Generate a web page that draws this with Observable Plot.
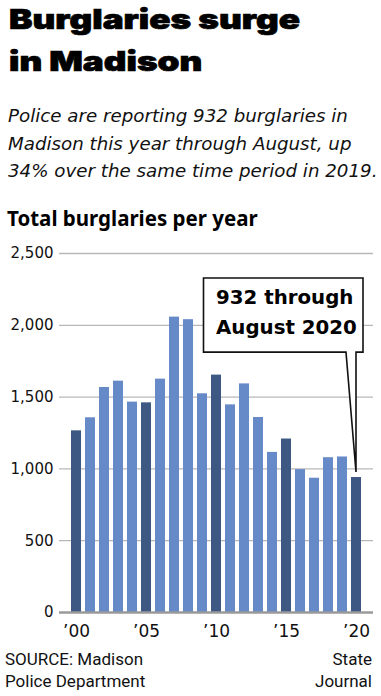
<!DOCTYPE html>
<html>
<head>
<meta charset="utf-8">
<script src="https://cdn.jsdelivr.net/npm/d3@7"></script>
<script src="https://cdn.jsdelivr.net/npm/@observablehq/plot@0.6"></script>
<style>
  html, body { margin: 0; padding: 0; background: #fff; }
  body { width: 381px; height: 696px; position: relative; overflow: hidden; font-family: "Noto Sans", sans-serif; color: #111; }
  .abs { position: absolute; white-space: nowrap; }
  .line { display: block; width: max-content; transform-origin: 0 0; }
  #title { left: 9px; top: -2px; font-family: Inter, "Liberation Sans", sans-serif; font-weight: 900; font-size: 27.5px; line-height: 42.4px; color: #000; -webkit-text-stroke: 0.7px #000; }
  #subtitle { left: 8px; top: 102px; font-family: "DejaVu Sans", sans-serif; font-style: italic; font-size: 16px; line-height: 27.5px; color: #111; }
  #label { left: 7px; top: 206px; font-weight: 700; font-size: 20.5px; line-height: 24px; color: #000; }
  #chart { left: 0; top: 240px; }
  #source { left: 5px; top: 649px; font-family: Roboto, sans-serif; font-size: 17px; line-height: 21.7px; }
  #credit { right: 9px; top: 649px; font-family: Roboto, sans-serif; font-size: 17px; line-height: 21.7px; text-align: right; }
</style>
</head>
<body>
<div id="title" class="abs"><span class="line">Burglaries surge</span><span class="line">in Madison</span></div>
<div id="subtitle" class="abs"><span class="line">Police are reporting 932 burglaries in</span><span class="line">Madison this year through August, up</span><span class="line">34% over the same time period in 2019.</span></div>
<div id="label" class="abs">Total burglaries per year</div>
<div id="chart" class="abs"></div>
<div id="source" class="abs">SOURCE: Madison<br>Police Department</div>
<div id="credit" class="abs">State<br>Journal</div>
<script>
// ---- data ----
const years = ["2000","2001","2002","2003","2004","2005","2006","2007","2008","2009","2010",
               "2011","2012","2013","2014","2015","2016","2017","2018","2019","2020"];
const burglaries = [1265, 1356, 1567, 1611, 1465, 1460, 1625, 2057, 2039, 1523, 1653,
                    1446, 1592, 1358, 1115, 1208, 995, 935, 1078, 1083, 940];
const highlightYears = ["2000","2005","2010","2015","2020"];
const yTicks = [0, 500, 1000, 1500, 2000, 2500];
const xTickYears = ["2000","2005","2010","2015","2020"];
const xTickLabels = ["\u201900","\u201905","\u201910","\u201915","\u201920"];
const annotationYear = "2020";
const annotationValue = 940;
const annotationLines = ["932 through", "August 2020"];

// ---- text fitting (styling only) ----
function scaleLinesTo(el, targetWidth) {
  const lines = el.querySelectorAll(".line");
  const w = lines[0].getBoundingClientRect().width;
  const k = targetWidth / w;
  lines.forEach(l => { l.style.transform = `scaleX(${k})`; });
}
function fitFontTo(el, targetWidth) {
  const line = el.querySelector(".line");
  const fs = parseFloat(getComputedStyle(el).fontSize);
  const w = line.getBoundingClientRect().width;
  el.style.fontSize = (fs * targetWidth / w) + "px";
}
scaleLinesTo(document.getElementById("title"), 291);
fitFontTo(document.getElementById("subtitle"), 340);

// ---- table ----
const table = years.map((year, i) => ({year, value: burglaries[i], highlight: highlightYears.includes(year)}));
const tickLabelOf = new Map(xTickYears.map((y, i) => [y, xTickLabels[i]]));

const LIGHT = "#6689c8";
const DARK = "#3d5882";

// callout annotation drawn through the scales
function callout(index, scales, values, dimensions) {
  const x = scales.x, y = scales.y, bw = x.bandwidth();
  const tipX = x(annotationYear) + bw / 2;
  const tipY = y(annotationValue) - 5;
  const left = x("2009") + bw / 2 + 1.5;
  const right = x(annotationYear) + bw + 2;
  const top = y(2326);
  const bottom = y(1810);
  const tailL = tipX - 10;
  const g = d3.create("svg:g");
  g.append("path")
    .attr("d", `M${left},${top}H${right}V${bottom}H${tipX}L${tipX},${tipY}L${tailL},${bottom}H${left}Z`)
    .attr("fill", "#fff").attr("stroke", "#111").attr("stroke-width", 1.6).attr("stroke-linejoin", "miter");
  annotationLines.forEach((t, i) => {
    g.append("text")
      .attr("x", left + 12.5).attr("y", top + 25.7 + i * 30)
      .attr("text-anchor", "start")
      .attr("font-family", "'DejaVu Sans', sans-serif").attr("font-weight", 700).attr("font-size", 19.8)
      .attr("fill", "#000").text(t);
  });
  return g.node();
}

const chart = Plot.plot({
  width: 381,
  height: 402,
  marginTop: 13,
  marginLeft: 59,
  marginRight: 8,
  marginBottom: 30,
  style: { fontFamily: "'DejaVu Sans', sans-serif", color: "#111", background: "transparent" },
  x: { type: "band", domain: years, padding: 0.32 },
  y: { domain: [0, 2500] },
  marks: [
    Plot.ruleY(yTicks.filter(d => d > 0), { stroke: "#b8b8b8", strokeWidth: 1.3 }),
    Plot.barY(table, { x: "year", y: "value", fill: d => d.highlight ? DARK : LIGHT }),
    Plot.ruleY([0], { stroke: "#9a9a9a", strokeWidth: 2.5 }),
    Plot.axisY({ ticks: yTicks, tickSize: 0, tickPadding: 6, tickFormat: d3.format(","), label: null, fontSize: 15, fill: "#111" }),
    Plot.axisX({ ticks: xTickYears, tickSize: 0, tickPadding: 12, tickFormat: d => tickLabelOf.get(d), label: null, fontSize: 17, fill: "#111" }),
    callout
  ]
});
document.getElementById("chart").appendChild(chart);
</script>
</body>
</html>
